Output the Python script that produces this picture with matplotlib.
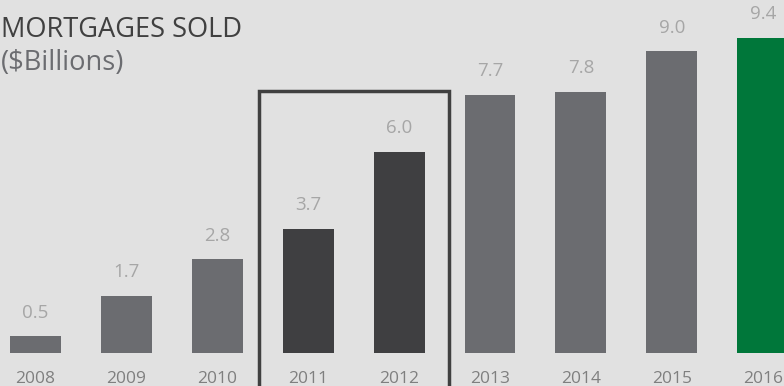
import matplotlib.pyplot as plt
from matplotlib.patches import Rectangle

# datos
anios = ["2008", "2009", "2010", "2011", "2012", "2013", "2014", "2015", "2016"]
valores = [0.5, 1.7, 2.8, 3.7, 6.0, 7.7, 7.8, 9.0, 9.4]
colores = ["#6b6c70", "#6b6c70", "#6b6c70", "#3f3f41", "#3f3f41",
           "#6b6c70", "#6b6c70", "#6b6c70", "#00773a"]

fondo = "#e1e1e1"
plt.rcParams['font.family'] = ['Open Sans', 'DejaVu Sans']

fig = plt.figure(figsize=(7.84, 3.86), dpi=100, facecolor=fondo)
ax = fig.add_axes([0, 0, 1, 1])
ax.set_facecolor(fondo)

x = list(range(len(anios)))
ax.bar(x, valores, width=0.56, color=colores)

# etiquetas de valor y de año
for i, v in zip(x, valores):
    ax.annotate(f"{v:.1f}", (i, v), xytext=(0, 17), textcoords="offset points",
                ha="center", va="center", fontsize=13.5, color="#a6a6a6")
    ax.annotate(anios[i], (i, 0), xytext=(0, -19), textcoords="offset points",
                ha="center", va="center", fontsize=12.5, color="#7f7f7f")

# recuadro 2011-2012
ax.add_patch(Rectangle((2.46, -3), 2.09, 7.82 + 3, fill=False,
                       edgecolor="#404040", linewidth=2.5))

ax.set_xlim(-0.39, 8.234)
ax.set_ylim(-0.985, 10.537)
ax.axis("off")

fig.text(0.001, 0.922, "MORTGAGES SOLD", fontsize=19.6, color="#404040",
         ha="left", va="center")
fig.text(0.001, 0.838, "($Billions)", fontsize=19.6, color="#6b6c70",
         ha="left", va="center")

fig.savefig("out.png", dpi=100, facecolor=fondo)
